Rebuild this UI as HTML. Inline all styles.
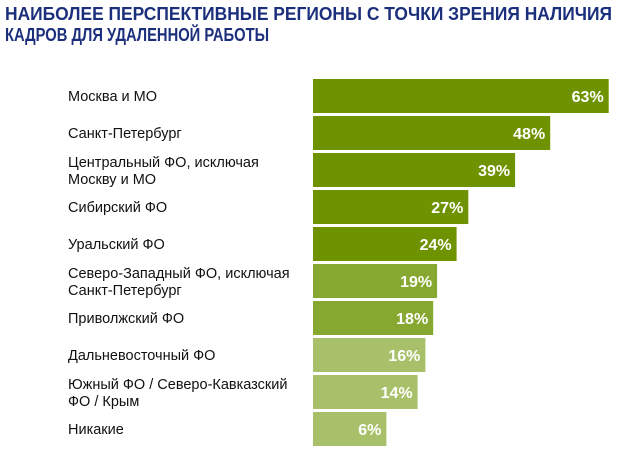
<!DOCTYPE html>
<html><head><meta charset="utf-8"><style>
html,body{margin:0;padding:0;background:#fff;width:620px;height:450px;overflow:hidden}
svg{display:block;font-family:"Liberation Sans","Noto Sans CJK SC",sans-serif}
</style></head><body>
<svg id="chart" width="620" height="450" viewBox="0 0 620 450">
<text x="5" y="20" font-size="18" font-weight="bold" fill="#1b2f7c" textLength="607" lengthAdjust="spacingAndGlyphs">НАИБОЛЕЕ ПЕРСПЕКТИВНЫЕ РЕГИОНЫ С ТОЧКИ ЗРЕНИЯ НАЛИЧИЯ</text>
<text x="5" y="41" font-size="18" font-weight="bold" fill="#1b2f7c" textLength="264" lengthAdjust="spacingAndGlyphs">КАДРОВ ДЛЯ УДАЛЕННОЙ РАБОТЫ</text>
<g id="bars"></g>
</svg>
<script>
const categories = [
  ["Москва и МО"],
  ["Санкт-Петербург"],
  ["Центральный ФО, исключая","Москву и МО"],
  ["Сибирский ФО"],
  ["Уральский ФО"],
  ["Северо-Западный ФО, исключая","Санкт-Петербург"],
  ["Приволжский ФО"],
  ["Дальневосточный ФО"],
  ["Южный ФО / Северо-Кавказский","ФО / Крым"],
  ["Никакие"]
];
const values = [63, 48, 39, 27, 24, 19, 18, 16, 14, 6];
const valueLabels = ["63%","48%","39%","27%","24%","19%","18%","16%","14%","6%"];
const tiers = [0,0,0,0,0,1,1,2,2,2];

const colors = ["#6f9300","#87a830","#a9c06a"];
const x0 = 313, y0 = 79, step = 37, barH = 34;
function xLen(v){ return 50 + 3.9 * v; }
function yPos(i){ return y0 + i * step; }

const NS = "http://www.w3.org/2000/svg";
const g = document.getElementById("bars");
categories.forEach((lines, i) => {
  const y = yPos(i);
  const w = xLen(values[i]);
  const r = document.createElementNS(NS, "rect");
  r.setAttribute("x", x0); r.setAttribute("y", y);
  r.setAttribute("width", w); r.setAttribute("height", barH);
  r.setAttribute("fill", colors[tiers[i]]);
  
  
  g.appendChild(r);

  const v = document.createElementNS(NS, "text");
  v.setAttribute("x", x0 + w - 5); v.setAttribute("y", y + barH/2 + 6);
  v.setAttribute("text-anchor", "end");
  v.setAttribute("font-size", "16"); v.setAttribute("font-weight", "bold");
  v.setAttribute("fill", "#fff");
  v.textContent = valueLabels[i];
  
  
  g.appendChild(v);

  const t = document.createElementNS(NS, "text");
  t.setAttribute("font-size", "14.5"); t.setAttribute("fill", "#111");
  
  
  const cy = y + barH/2;
  lines.forEach((ln, k) => {
    const s = document.createElementNS(NS, "tspan");
    s.setAttribute("x", 68);
    const base = lines.length === 1 ? cy + 5 : cy - 3 + k * 17;
    s.setAttribute("y", base);
    s.textContent = ln;
    t.appendChild(s);
  });
  g.appendChild(t);
});
</script>
</body></html>
